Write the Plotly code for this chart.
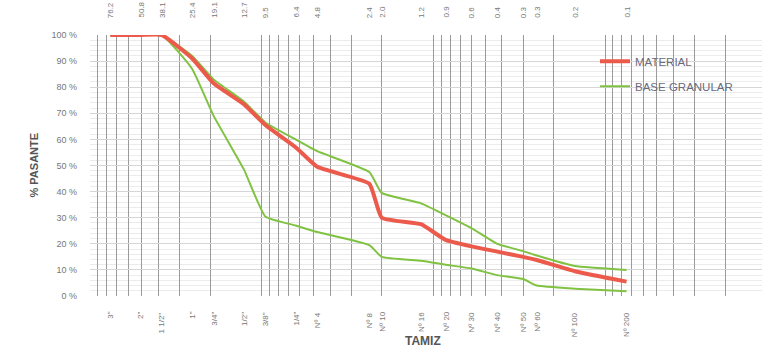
import numpy as np
import plotly.graph_objects as go

# Sieve openings (mm) and their names
sieve_mm = [76.2, 50.8, 38.1, 25.4, 19.05, 12.7, 9.525, 6.35, 4.75, 2.36, 2.00,
            1.18, 0.85, 0.60, 0.425, 0.30, 0.25, 0.15, 0.075]
sieve_names = ['3"', '2"', '1 1/2"', '1"', '3/4"', '1/2"', '3/8"', '1/4"', 'Nº 4',
               'Nº 8', 'Nº 10', 'Nº 16', 'Nº 20', 'Nº 30', 'Nº 40', 'Nº 50',
               'Nº 60', 'Nº 100', 'Nº 200']
mm_labels = ['76.2', '50.8', '38.1', '25.4', '19.1', '12.7', '9.5', '6.4', '4.8',
             '2.4', '2.0', '1.2', '0.9', '0.6', '0.4', '0.3', '0.3', '0.2', '0.1']

# Percent passing
material = [100, 100, 100, 91, 81.5, 73.5, 65.5, 57, 49.5, 43, 30,
            27.5, 21.5, 19, 17, 15, 13.8, 9.5, 5.5]
base_upper = [100, 100, 100, 92, 83, 74.5, 66.5, 60, 55.5, 47.5, 39.5,
              35.5, 31, 26, 20, 17.2, 15.5, 11.5, 10]
base_lower = [100, 100, 100, 87, 69, 48.5, 30.5, 27, 24.5, 19.5, 15,
              13.5, 12, 10.5, 8, 6.5, 4, 2.8, 1.8]

pct_ticks = list(range(0, 101, 10))
pct_labels = [f"{v} %" for v in pct_ticks]

FONT = "Liberation Sans, Arial, sans-serif"
GREEN = "#80c242"
RED = "#ec5a4b"

fig = go.Figure()

fig.add_trace(go.Scatter(
    x=sieve_mm, y=base_upper, mode="lines", name="BASE GRANULAR",
    line=dict(color=GREEN, width=2, shape="spline", smoothing=0.4),
    legendgroup="base", legendrank=2, hoverinfo="skip"))
fig.add_trace(go.Scatter(
    x=sieve_mm, y=base_lower, mode="lines", name="BASE GRANULAR",
    line=dict(color=GREEN, width=2, shape="spline", smoothing=0.4),
    legendgroup="base", showlegend=False, hoverinfo="skip"))
fig.add_trace(go.Scatter(
    x=sieve_mm, y=material, mode="lines", name="MATERIAL",
    line=dict(color=RED, width=4, shape="spline", smoothing=0.4),
    legendgroup="mat", legendrank=1, hoverinfo="skip"))

# Log grid: 1..9 x 10^k
grid_vals = [m * 10.0 ** k for k in range(-2, 3) for m in range(1, 10)]
grid_vals = [v for v in grid_vals if 0.01 <= v <= 100]

annotations = []
for mm, lab in zip(sieve_mm, mm_labels):
    annotations.append(dict(
        x=np.log10(mm), y=1, xref="x", yref="paper", text=lab, showarrow=False,
        textangle=-90, xanchor="center", yanchor="bottom", yshift=15,
        font=dict(family=FONT, size=8, color="#777777")))
for mm, lab in zip(sieve_mm, sieve_names):
    annotations.append(dict(
        x=np.log10(mm), y=0, xref="x", yref="paper", text=lab, showarrow=False,
        textangle=-90, xanchor="center", yanchor="top", yshift=-14,
        font=dict(family=FONT, size=8, color="#777777")))
annotations.append(dict(
    x=423, y=350, xref="paper", yref="paper", text="<b>TAMIZ</b>", showarrow=False,
    font=dict(family=FONT, size=12, color="#555555")))
annotations.append(dict(
    x=-0.086, y=0.5, xref="paper", yref="paper", text="<b>% PASANTE</b>",
    showarrow=False, textangle=-90, xanchor="center", yanchor="middle",
    font=dict(family=FONT, size=11, color="#555555")))

W, H = 766, 358
L, R, T, B = 90, 4, 35, 62
# position TAMIZ in pixel terms
annotations[-2]["x"] = (423 - L) / (W - L - R)
annotations[-2]["y"] = -(350 - (H - B)) / (H - T - B)
annotations[-1]["x"] = -(L - 33) / (W - L - R)

fig.update_layout(
    width=W, height=H,
    margin=dict(l=L, r=R, t=T, b=B),
    paper_bgcolor="white", plot_bgcolor="white",
    font=dict(family=FONT, color="#666666"),
    showlegend=True,
    legend=dict(x=(595 - L) / (W - L - R), y=0.955, xanchor="left", yanchor="top",
                bgcolor="rgba(0,0,0,0)", font=dict(family=FONT, size=11.5, color="#6a6a7a"),
                traceorder="grouped", tracegroupgap=6),
    annotations=annotations,
)
fig.update_xaxes(
    type="log", range=[2, 2 - (W - L - R) / 171.7],
    tickvals=grid_vals, showticklabels=False, ticks="",
    showgrid=True, gridcolor="#9a9a9a", gridwidth=1,
    zeroline=False, showline=False)
fig.update_yaxes(
    range=[0, 100], tickvals=pct_ticks, ticktext=pct_labels,
    ticklabelstandoff=12, ticks="",
    tickfont=dict(family=FONT, size=9, color="#777777"),
    showgrid=True, gridcolor="#d6d6d6", gridwidth=1,
    minor=dict(dtick=2, showgrid=True, gridcolor="#ececec", gridwidth=1),
    zeroline=False, showline=False)

fig.write_html("out.html")
